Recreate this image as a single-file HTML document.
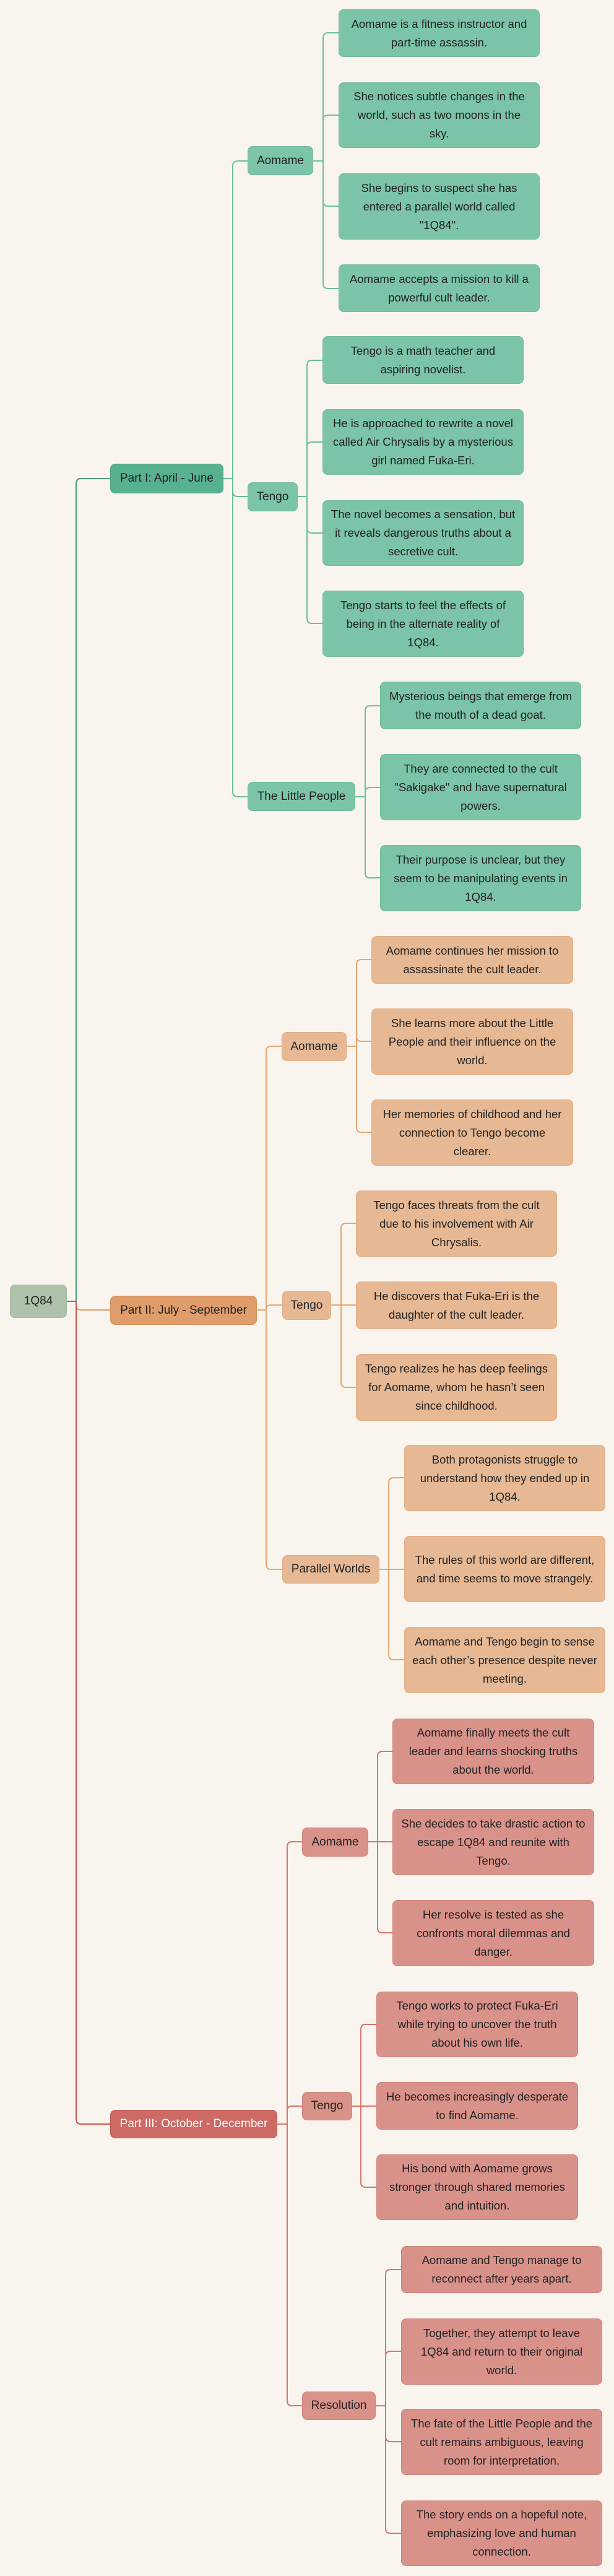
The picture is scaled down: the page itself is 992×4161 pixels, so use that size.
<!DOCTYPE html>
<html><head><meta charset="utf-8"><style>
body{margin:0;background:#f9f5ee;}
#c{position:relative;width:992px;height:4161px;overflow:hidden;background:#f9f5ee;font-family:"Liberation Sans",sans-serif;}
.b{position:absolute;box-sizing:border-box;display:flex;align-items:center;justify-content:center;text-align:center;border-radius:8px;color:#222;font-size:18.5px;line-height:30px;padding:0 12px;}
.m{font-size:19px;padding:0 6px;}
.g{background:#7bc4a7;border:1px solid #72bb9e;}
.o{background:#e6b894;border:1px solid #e3ad83;}
.r{background:#d9928a;border:1px solid #d0837b;}
svg{position:absolute;left:0;top:0;}
</style></head><body><div id="c">
<svg width="992" height="4161" fill="none" stroke-width="2">
<g stroke="#4f9a78">
<path d="M108,2102 H123 V781 Q123,773 131,773 H178"/>
</g>
<g stroke="#e39a66"><path d="M108,2102 H123 V2108 Q123,2116 131,2116 H178"/></g>
<g stroke="#c9574e"><path d="M108,2102 H123 V3423 Q123,3431 131,3431 H178"/></g>
<g stroke="#6cbf9b">
<path d="M361,773 H376 V268 Q376,260 384,260 H400"/>
<path d="M361,773 H376 V794 Q376,802 384,802 H400"/>
<path d="M361,773 H376 V1279 Q376,1287 384,1287 H400"/>
<path d="M506,260 H522 V61 Q522,53 530,53 H547"/>
<path d="M506,260 H522 V194 Q522,186 530,186 H547"/>
<path d="M506,260 H522 V325 Q522,333 530,333 H547"/>
<path d="M506,260 H522 V458 Q522,466 530,466 H547"/>
<path d="M481,802 H496 V590 Q496,582 504,582 H521"/>
<path d="M481,802 H496 V722 Q496,714 504,714 H521"/>
<path d="M481,802 H496 V853 Q496,861 504,861 H521"/>
<path d="M481,802 H496 V999 Q496,1007 504,1007 H521"/>
<path d="M574,1287 H590 V1148 Q590,1140 598,1140 H614"/>
<path d="M574,1287 H590 V1280 Q590,1272 598,1272 H614"/>
<path d="M574,1287 H590 V1410 Q590,1418 598,1418 H614"/>
</g>
<g stroke="#e8a572">
<path d="M415,2116 H430 V1698 Q430,1690 438,1690 H455"/>
<path d="M415,2116 H430 V2116 Q430,2108 438,2108 H456"/>
<path d="M415,2116 H430 V2527 Q430,2535 438,2535 H456"/>
<path d="M560,1690 H576 V1558 Q576,1550 584,1550 H600"/>
<path d="M560,1690 H576 V1674 Q576,1682 584,1682 H600"/>
<path d="M560,1690 H576 V1821 Q576,1829 584,1829 H600"/>
<path d="M535,2108 H551 V1984 Q551,1976 559,1976 H575"/>
<path d="M535,2108 H575"/>
<path d="M535,2108 H551 V2233 Q551,2241 559,2241 H575"/>
<path d="M613,2535 H628 V2395 Q628,2387 636,2387 H653"/>
<path d="M613,2535 H653"/>
<path d="M613,2535 H628 V2673 Q628,2681 636,2681 H653"/>
</g>
<g stroke="#d8756c">
<path d="M448,3431 H464 V2983 Q464,2975 472,2975 H488"/>
<path d="M448,3431 H464 V3410 Q464,3402 472,3402 H488"/>
<path d="M448,3431 H464 V3878 Q464,3886 472,3886 H488"/>
<path d="M595,2975 H610 V2837 Q610,2829 618,2829 H634"/>
<path d="M595,2975 H634"/>
<path d="M595,2975 H610 V3114 Q610,3122 618,3122 H634"/>
<path d="M569,3402 H583 V3278 Q583,3270 591,3270 H608"/>
<path d="M569,3402 H608"/>
<path d="M569,3402 H583 V3525 Q583,3533 591,3533 H608"/>
<path d="M607,3886 H623 V3674 Q623,3666 631,3666 H648"/>
<path d="M607,3886 H623 V3806 Q623,3798 631,3798 H648"/>
<path d="M607,3886 H623 V3936 Q623,3944 631,3944 H648"/>
<path d="M607,3886 H623 V4084 Q623,4092 631,4092 H648"/>
</g>
</svg>

<div class="b m" style="left:16px;top:2075px;width:92px;height:54px;background:#adc2a9;border:1px solid #a2b89e;">1Q84</div>

<div class="b m" style="left:178px;top:749px;width:183px;height:48px;background:#57b190;border:1px solid #4fa586;">Part I: April - June</div>
<div class="b m" style="left:178px;top:2093px;width:237px;height:47px;background:#e09d6c;border:1px solid #d9905c;">Part II: July - September</div>
<div class="b m" style="left:178px;top:3408px;width:270px;height:46px;background:#cc6a63;border:1px solid #c25e57;color:#fff;">Part III: October - December</div>

<div class="b m g" style="left:400px;top:236px;width:106px;height:47px;">Aomame</div>
<div class="b m g" style="left:400px;top:779px;width:81px;height:47px;">Tengo</div>
<div class="b m g" style="left:400px;top:1263px;width:174px;height:47px;">The Little People</div>

<div class="b g" style="left:547px;top:15px;width:325px;height:77px;">Aomame is a fitness instructor and part-time assassin.</div>
<div class="b g" style="left:547px;top:133px;width:325px;height:106px;">She notices subtle changes in the world, such as two moons in the sky.</div>
<div class="b g" style="left:547px;top:280px;width:325px;height:107px;">She begins to suspect she has entered a parallel world called "1Q84".</div>
<div class="b g" style="left:547px;top:427px;width:325px;height:77px;">Aomame accepts a mission to kill a powerful cult leader.</div>

<div class="b g" style="left:521px;top:543px;width:325px;height:77px;">Tengo is a math teacher and aspiring novelist.</div>
<div class="b g" style="left:521px;top:661px;width:325px;height:106px;">He is approached to rewrite a novel called Air Chrysalis by a mysterious girl named Fuka-Eri.</div>
<div class="b g" style="left:521px;top:808px;width:325px;height:106px;">The novel becomes a sensation, but it reveals dangerous truths about a secretive cult.</div>
<div class="b g" style="left:521px;top:954px;width:325px;height:107px;">Tengo starts to feel the effects of being in the alternate reality of 1Q84.</div>

<div class="b g" style="left:614px;top:1101px;width:325px;height:77px;">Mysterious beings that emerge from the mouth of a dead goat.</div>
<div class="b g" style="left:614px;top:1218px;width:325px;height:107px;">They are connected to the cult "Sakigake" and have supernatural powers.</div>
<div class="b g" style="left:614px;top:1365px;width:325px;height:107px;">Their purpose is unclear, but they seem to be manipulating events in 1Q84.</div>

<div class="b m o" style="left:455px;top:1667px;width:105px;height:47px;">Aomame</div>
<div class="b m o" style="left:456px;top:2085px;width:79px;height:47px;">Tengo</div>
<div class="b m o" style="left:456px;top:2512px;width:157px;height:46px;">Parallel Worlds</div>

<div class="b o" style="left:600px;top:1512px;width:326px;height:77px;">Aomame continues her mission to assassinate the cult leader.</div>
<div class="b o" style="left:600px;top:1629px;width:326px;height:107px;">She learns more about the Little People and their influence on the world.</div>
<div class="b o" style="left:600px;top:1776px;width:326px;height:107px;">Her memories of childhood and her connection to Tengo become clearer.</div>

<div class="b o" style="left:575px;top:1923px;width:325px;height:107px;">Tengo faces threats from the cult due to his involvement with Air Chrysalis.</div>
<div class="b o" style="left:575px;top:2070px;width:325px;height:77px;">He discovers that Fuka-Eri is the daughter of the cult leader.</div>
<div class="b o" style="left:575px;top:2187px;width:325px;height:108px;">Tengo realizes he has deep feelings for Aomame, whom he hasn’t seen since childhood.</div>

<div class="b o" style="left:653px;top:2334px;width:325px;height:107px;">Both protagonists struggle to understand how they ended up in 1Q84.</div>
<div class="b o" style="left:653px;top:2481px;width:325px;height:107px;">The rules of this world are different, and time seems to move strangely.</div>
<div class="b o" style="left:653px;top:2628px;width:325px;height:107px;">Aomame and Tengo begin to sense each other’s presence despite never meeting.</div>

<div class="b m r" style="left:488px;top:2952px;width:107px;height:47px;">Aomame</div>
<div class="b m r" style="left:488px;top:3379px;width:81px;height:46px;">Tengo</div>
<div class="b m r" style="left:488px;top:3863px;width:119px;height:46px;">Resolution</div>

<div class="b r" style="left:634px;top:2776px;width:326px;height:106px;">Aomame finally meets the cult leader and learns shocking truths about the world.</div>
<div class="b r" style="left:634px;top:2922px;width:326px;height:107px;">She decides to take drastic action to escape 1Q84 and reunite with Tengo.</div>
<div class="b r" style="left:634px;top:3069px;width:326px;height:107px;">Her resolve is tested as she confronts moral dilemmas and danger.</div>

<div class="b r" style="left:608px;top:3217px;width:326px;height:106px;">Tengo works to protect Fuka-Eri while trying to uncover the truth about his own life.</div>
<div class="b r" style="left:608px;top:3363px;width:326px;height:77px;">He becomes increasingly desperate to find Aomame.</div>
<div class="b r" style="left:608px;top:3480px;width:326px;height:106px;">His bond with Aomame grows stronger through shared memories and intuition.</div>

<div class="b r" style="left:648px;top:3628px;width:325px;height:76px;">Aomame and Tengo manage to reconnect after years apart.</div>
<div class="b r" style="left:648px;top:3745px;width:325px;height:107px;">Together, they attempt to leave 1Q84 and return to their original world.</div>
<div class="b r" style="left:648px;top:3891px;width:325px;height:107px;">The fate of the Little People and the cult remains ambiguous, leaving room for interpretation.</div>
<div class="b r" style="left:648px;top:4039px;width:325px;height:106px;">The story ends on a hopeful note, emphasizing love and human connection.</div>
</div></body></html>
